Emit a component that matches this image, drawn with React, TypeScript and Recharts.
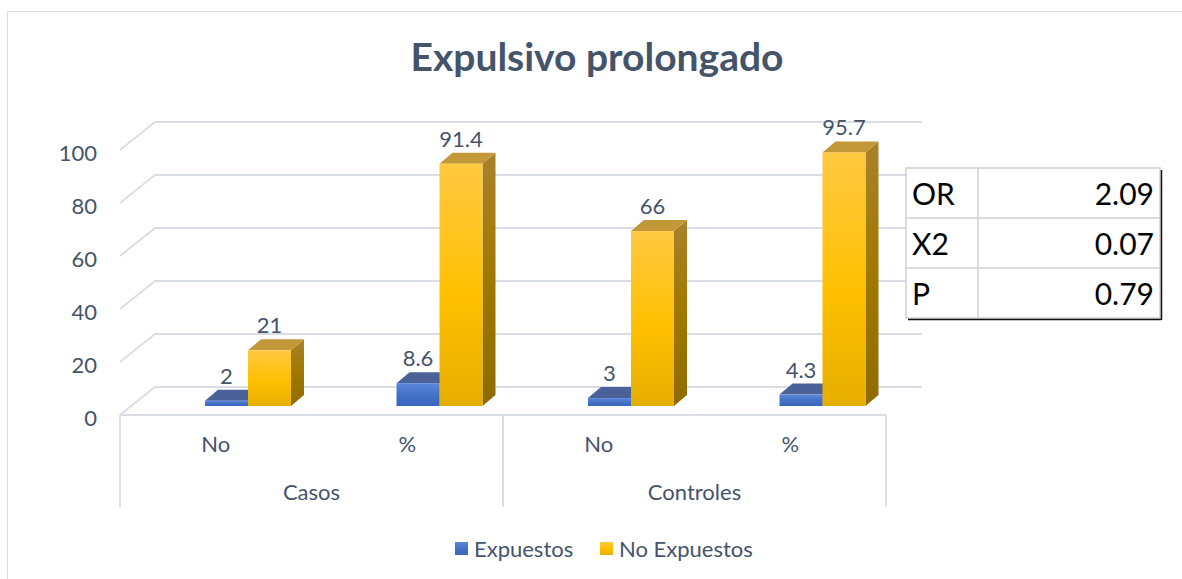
import React from 'react';
import { BarChart, Bar, XAxis, YAxis, CartesianGrid, LabelList, Legend } from 'recharts';

// ---- data ----
const categories = ['No', '%', 'No', '%'];
const groups = ['Casos', 'Casos', 'Controles', 'Controles'];
const expuestos = [2, 8.6, 3, 4.3];
const noExpuestos = [21, 91.4, 66, 95.7];
const yTicks = [0, 20, 40, 60, 80, 100];
const seriesNames = ['Expuestos', 'No Expuestos'];
const statLabels = ['OR', 'X2', 'P'];
const statValues = ['2.09', '0.07', '0.79'];
const titleText = 'Expulsivo prolongado';

const data = categories.map((c, i) => ({
  key: `${groups[i]}-${c}-${i}`,
  exp: expuestos[i],
  noexp: noExpuestos[i],
}));

// ---- layout ----
const W = 1182;
const H = 579;
const PLOT_L = 152;
const PLOT_R = 918;
const PLOT_T = 141;
const PLOT_B = 406;
const Y_AXIS_W = 60;
const X_AXIS_H = 120;
const BAND = (PLOT_R - PLOT_L) / categories.length;
const FLOOR_DX = -32;
const FLOOR_DY = 9;
const BACK_DX = 3;
const BACK_DY = -19;
const BACK_R_DX = 4;
const DEPTH_X = 13;
const DEPTH_Y = -11;
const GRID = '#D9DDE5';
const TEXT = '#44546A';
const FONT = "Lato, 'Open Sans', sans-serif";

const gridLine = (p: any) => {
  const { x1, x2, y1 } = p;
  return (
    <polyline
      key={`g-${y1}`}
      points={`${x1 + FLOOR_DX},${y1 + FLOOR_DY} ${x1 + BACK_DX},${y1 + BACK_DY} ${x2 + BACK_R_DX},${y1 + BACK_DY}`}
      fill="none"
      stroke={GRID}
      strokeWidth={1.8}
    />
  );
};

const YTick = (p: any) => (
  <text
    x={PLOT_L + FLOOR_DX - 23}
    y={p.y + FLOOR_DY + 11}
    textAnchor="end"
    fill={TEXT}
    fontSize={22}
    fontFamily={FONT}
  >
    {p.payload.value}
  </text>
);

const XTick = (p: any) => {
  const { x, index } = p;
  const y = PLOT_B;
  const fx = x + FLOOR_DX;
  const fy = y + FLOOR_DY;
  const half = BAND / 2;
  const first = index === 0 || groups[index - 1] !== groups[index];
  const last = index === categories.length - 1 || groups[index + 1] !== groups[index];
  return (
    <g>
      <line x1={fx - half} x2={fx + half} y1={fy} y2={fy} stroke={GRID} strokeWidth={1.8} />
      <text x={fx} y={y + 46} textAnchor="middle" fill={TEXT} fontSize={22} fontFamily={FONT}>
        {categories[index]}
      </text>
      {first && <line x1={fx - half} x2={fx - half} y1={fy} y2={fy + 92} stroke={GRID} strokeWidth={1.8} />}
      {first && (
        <text x={fx + half} y={y + 94} textAnchor="middle" fill={TEXT} fontSize={22} fontFamily={FONT}>
          {groups[index]}
        </text>
      )}
      {last && <line x1={fx + half} x2={fx + half} y1={fy} y2={fy + 92} stroke={GRID} strokeWidth={1.8} />}
    </g>
  );
};

const makeBox = (front: string, top: string, side: string) => (p: any) => {
  const { x, y, width, height } = p;
  if (width == null || height == null) return <g />;
  return (
    <g>
      <polygon
        points={`${x + width},${y} ${x + width + DEPTH_X},${y + DEPTH_Y} ${x + width + DEPTH_X},${y + height + DEPTH_Y} ${x + width},${y + height}`}
        fill={side}
      />
      <polygon
        points={`${x},${y} ${x + DEPTH_X},${y + DEPTH_Y} ${x + width + DEPTH_X},${y + DEPTH_Y} ${x + width},${y}`}
        fill={top}
      />
      <rect x={x} y={y} width={width} height={height} fill={front} />
    </g>
  );
};

const BlueBox = makeBox('url(#blueFront)', '#4A6298', 'url(#blueSide)');
const GoldBox = makeBox('url(#goldFront)', '#C39838', 'url(#goldSide)');

const DataLabel = (p: any) => {
  const { x, y, width, value } = p;
  return (
    <text x={x + width / 2} y={y - 17} textAnchor="middle" fill={TEXT} fontSize={22} fontFamily={FONT}>
      {value}
    </text>
  );
};

const LegendContent = () => (
  <div style={{ position: 'relative', width: W, height: 26, fontFamily: FONT, fontSize: 22, color: TEXT }}>
    {seriesNames.map((n, i) => {
      const left = i === 0 ? 455 : 600;
      return (
        <div key={n} style={{ position: 'absolute', left, top: 0, display: 'flex', alignItems: 'center', height: 26 }}>
          <span
            style={{
              display: 'inline-block',
              width: 13,
              height: 13,
              background:
                i === 0
                  ? 'linear-gradient(#5C88DA, #4472C4 50%, #3764C0)'
                  : 'linear-gradient(#FFC941, #FFC000 50%, #E6AE00)',
              marginRight: 6,
            }}
          />
          <span>{n}</span>
        </div>
      );
    })}
  </div>
);

export default function App() {
  return (
    <div style={{ position: 'absolute', left: 0, top: 0, width: W, height: H, background: '#fff', overflow: 'hidden' }}>
      <svg width={0} height={0} style={{ position: 'absolute' }}>
        <defs>
          <linearGradient id="blueFront" x1="0" y1="0" x2="0" y2="1">
            <stop offset="0" stopColor="#5C88DA" />
            <stop offset="0.5" stopColor="#4472C4" />
            <stop offset="1" stopColor="#3764C0" />
          </linearGradient>
          <linearGradient id="blueSide" x1="0" y1="0" x2="0" y2="1">
            <stop offset="0" stopColor="#3D5C99" />
            <stop offset="1" stopColor="#2A4C8F" />
          </linearGradient>
          <linearGradient id="goldFront" x1="0" y1="0" x2="0" y2="1">
            <stop offset="0" stopColor="#FFC941" />
            <stop offset="0.55" stopColor="#FFC000" />
            <stop offset="1" stopColor="#E6AE00" />
          </linearGradient>
          <linearGradient id="goldSide" x1="0" y1="0" x2="0" y2="1">
            <stop offset="0" stopColor="#A8822B" />
            <stop offset="0.5" stopColor="#A07800" />
            <stop offset="1" stopColor="#8F6B00" />
          </linearGradient>
        </defs>
      </svg>
      <div style={{ position: 'absolute', left: 7, top: 11, width: W - 7, height: H - 11, borderLeft: `1.5px solid ${GRID}`, borderTop: `1.5px solid ${GRID}` }} />
      <div
        style={{
          position: 'absolute',
          left: 0,
          top: 34,
          width: W + 12,
          textAlign: 'center',
          fontFamily: FONT,
          fontWeight: 700,
          fontSize: 39,
          color: TEXT,
          lineHeight: '44px',
        }}
      >
        {titleText}
      </div>
      <div style={{ position: 'absolute', left: 0, top: 0 }}>
        <BarChart
          width={W}
          height={H}
          data={data}
          margin={{ top: PLOT_T, right: W - PLOT_R, bottom: H - PLOT_B - X_AXIS_H, left: PLOT_L - Y_AXIS_W }}
          barSize={43}
          barGap={0}
        >
          <CartesianGrid vertical={false} horizontal={gridLine} />
          <YAxis
            width={Y_AXIS_W}
            domain={[0, 100]}
            ticks={yTicks}
            axisLine={false}
            tickLine={false}
            tick={YTick}
            interval={0}
          />
          <XAxis
            dataKey="key"
            height={X_AXIS_H}
            axisLine={false}
            tickLine={false}
            tickSize={0}
            tickMargin={0}
            interval={0}
            tick={XTick}
          />
          <Legend
            verticalAlign="middle"
            align="center"
            layout="horizontal"
            content={<LegendContent />}
            wrapperStyle={{ position: 'absolute', left: 0, top: 535, width: W, height: 26 }}
          />
          <Bar dataKey="exp" name={seriesNames[0]} fill="#4472C4" shape={BlueBox} isAnimationActive={false}>
            <LabelList dataKey="exp" content={<DataLabel />} />
          </Bar>
          <Bar dataKey="noexp" name={seriesNames[1]} fill="#FFC000" shape={GoldBox} isAnimationActive={false}>
            <LabelList dataKey="noexp" content={<DataLabel />} />
          </Bar>
        </BarChart>
      </div>
      <svg width={W} height={H} style={{ position: 'absolute', left: 0, top: 0, pointerEvents: 'none' }}>
        <g>
          <line x1={908} y1={319} x2={1161} y2={319} stroke="#111" strokeWidth={2.5} />
          <line x1={1161} y1={170} x2={1161} y2={320} stroke="#111" strokeWidth={2.5} />
          <rect x={906} y={168} width={254} height={150} fill="#fff" stroke="#D0D0D0" strokeWidth={1.5} />
          {statLabels.map((l, i) => (
            <g key={l}>
              {i > 0 && <line x1={906} x2={1160} y1={168 + i * 50} y2={168 + i * 50} stroke="#D0D0D0" strokeWidth={1.5} />}
              <text x={912} y={168 + i * 50 + 37} fontFamily={FONT} fontSize={30} fill="#000">
                {l}
              </text>
              <text x={1154} y={168 + i * 50 + 37} fontFamily={FONT} fontSize={30} fill="#000" textAnchor="end">
                {statValues[i]}
              </text>
            </g>
          ))}
          <line x1={978} x2={978} y1={168} y2={318} stroke="#D0D0D0" strokeWidth={1.5} />
        </g>
      </svg>
    </div>
  );
}
